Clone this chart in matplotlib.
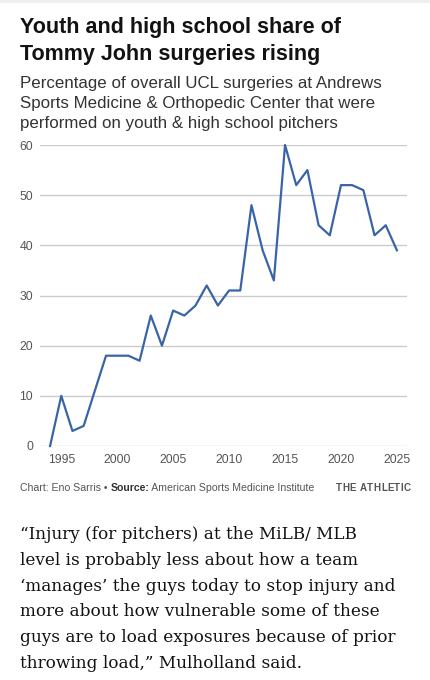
import matplotlib
matplotlib.use("Agg")
import matplotlib.pyplot as plt
from matplotlib.patches import Rectangle

# data
years = list(range(1994, 2026))
share = [0, 10, 3, 4, 11, 18, 18, 18, 17, 26, 20, 27, 26, 28, 32, 28,
         31, 31, 48, 39, 33, 60, 52, 55, 44, 42, 52, 52, 51, 42, 44, 39]
x_ticks = [1995, 2000, 2005, 2010, 2015, 2020, 2025]
y_ticks = [0, 10, 20, 30, 40, 50, 60]

title_lines = ["Youth and high school share of", "Tommy John surgeries rising"]
subtitle_lines = ["Percentage of overall UCL surgeries at Andrews",
                  "Sports Medicine & Orthopedic Center that were",
                  "performed on youth & high school pitchers"]
quote_lines = ["\u201cInjury (for pitchers) at the MiLB/ MLB",
               "level is probably less about how a team",
               "\u2018manages\u2019 the guys today to stop injury and",
               "more about how vulnerable some of these",
               "guys are to load exposures because of prior",
               "throwing load,\u201d Mulholland said."]

W, H = 431, 680
fig = plt.figure(figsize=(W / 100, H / 100), dpi=100)
fig.patch.set_facecolor("white")

sans = "Liberation Sans"
serif = "DejaVu Serif"


def fy(px):
    return 1 - px / H


def fx(px):
    return px / W


# faint shadow band at the very top
fig.patches.append(Rectangle((0, fy(3)), 1, 3 / H, transform=fig.transFigure,
                             facecolor="#eeeeee", edgecolor="none"))

# title + subtitle
for i, line in enumerate(title_lines):
    fig.text(fx(20), fy(33 + i * 27), line, fontsize=15.5, fontweight="bold",
             family=sans, color="#121212", va="baseline")
for i, line in enumerate(subtitle_lines):
    fig.text(fx(20), fy(88 + i * 20), line, fontsize=12.2,
             family=sans, color="#333333", va="baseline")

# chart
ax = fig.add_axes([fx(40), fy(446), fx(407 - 40), (446 - 145) / H])
ax.plot(years, share, color="#3a64a8", lw=1.6, clip_on=False, zorder=3)
ax.set_xlim(1993.1, 2025.9)
ax.set_ylim(0, 60)
ax.set_xticks(x_ticks)
ax.set_yticks(y_ticks)
ax.grid(axis="y", color="#cccccc", lw=1)
ax.set_axisbelow(True)
for s in ax.spines.values():
    s.set_visible(False)
ax.tick_params(length=0, labelsize=8.8, labelcolor="#555555")
ax.tick_params(axis="x", pad=6)
ax.tick_params(axis="y", pad=5)
for lab in ax.get_xticklabels() + ax.get_yticklabels():
    lab.set_family(sans)

# footer
fig.canvas.draw()
r = fig.canvas.get_renderer()
x0 = 20
for txt, wt, col in [("Chart: Eno Sarris \u2022 ", "normal", "#555555"),
                     ("Source:", "bold", "#333333"),
                     (" American Sports Medicine Institute", "normal", "#555555")]:
    t = fig.text(fx(x0), fy(491), txt, fontsize=7.55, fontweight=wt,
                 family=sans, color=col, va="baseline")
    x0 += t.get_window_extent(r).width

# THE ATHLETIC with letter spacing
x0 = 336
for ch in "THE ATHLETIC":
    t = fig.text(fx(x0), fy(491), ch, fontsize=7, fontweight="bold",
                 family=sans, color="#555555", va="baseline")
    x0 += t.get_window_extent(r).width + 0.4 if ch != " " else 3

# quote
for i, line in enumerate(quote_lines):
    fig.text(fx(20), fy(539 + i * 25.8), line, fontsize=12.2,
             family=serif, color="#121212", va="baseline")

fig.savefig("out.png", dpi=100, facecolor="white")
